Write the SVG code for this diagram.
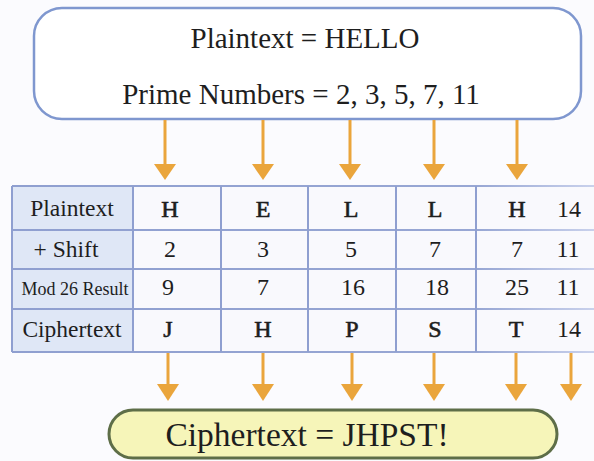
<svg xmlns="http://www.w3.org/2000/svg" width="594" height="461" viewBox="0 0 594 461">
  <defs>
    <style>
      text { font-family: 'Liberation Serif', 'Times New Roman', 'DejaVu Serif', serif; fill: #1e1e1e; text-anchor: middle; }
      .big { font-size: 29px; }
      .cell { font-size: 24px; }
      .letter { font-size: 24px; stroke: #1e1e1e; stroke-width: 0.6; }
      .lbl { font-size: 23.5px; }
      .small { font-size: 18px; }
      .grid { stroke: #8f9fd0; stroke-width: 2; fill: none; }
      .arrow { stroke: #eaa53c; stroke-width: 3; fill: none; }
      .head { fill: #eaa53c; }
    </style>
    <linearGradient id="fade" gradientUnits="userSpaceOnUse" x1="12" y1="0" x2="594" y2="0">
      <stop offset="0" stop-color="#8f9fd0"/>
      <stop offset="0.8" stop-color="#98a7d4"/>
      <stop offset="1" stop-color="#c9d1ec"/>
    </linearGradient>
  </defs>

  <rect width="594" height="461" fill="#fbfbfe"/>

  <!-- input box -->
  <g id="input">
    <rect x="34" y="8" width="547" height="111" rx="28" fill="#ffffff" stroke="#7f97cf" stroke-width="2.5"/>
    <text class="big" x="305" y="48">Plaintext = HELLO</text>
    <text class="big" x="301" y="104">Prime Numbers = 2, 3, 5, 7, 11</text>
  </g>

  <!-- connectors -->
  <g id="connectors">
    <g class="arrow">
      <line x1="165" y1="120" x2="165" y2="166"/>
      <line x1="263" y1="120" x2="263" y2="166"/>
      <line x1="350" y1="120" x2="350" y2="166"/>
      <line x1="434" y1="120" x2="434" y2="166"/>
      <line x1="517" y1="120" x2="517" y2="166"/>
      <line x1="168" y1="353" x2="168" y2="386"/>
      <line x1="263" y1="353" x2="263" y2="386"/>
      <line x1="352" y1="353" x2="352" y2="386"/>
      <line x1="434" y1="353" x2="434" y2="386"/>
      <line x1="516" y1="353" x2="516" y2="386"/>
      <line x1="571" y1="353" x2="571" y2="386"/>
    </g>
    <g class="head">
      <polygon points="154,164 176,164 165,180"/>
      <polygon points="252,164 274,164 263,180"/>
      <polygon points="339,164 361,164 350,180"/>
      <polygon points="423,164 445,164 434,180"/>
      <polygon points="506,164 528,164 517,180"/>
      <polygon points="157,384 179,384 168,401"/>
      <polygon points="252,384 274,384 263,401"/>
      <polygon points="341,384 363,384 352,401"/>
      <polygon points="423,384 445,384 434,401"/>
      <polygon points="505,384 527,384 516,401"/>
      <polygon points="560,384 582,384 571,401"/>
    </g>
  </g>

  <!-- table -->
  <g id="table">
    <rect x="12" y="186" width="121" height="166" fill="#dfe7f6"/>
    <rect x="133" y="186" width="461" height="166" fill="#f9f9fd"/>
    <g class="grid">
      <line x1="12" y1="186" x2="594" y2="186" stroke="url(#fade)"/>
      <line x1="12" y1="230" x2="594" y2="230" stroke="url(#fade)"/>
      <line x1="12" y1="269" x2="594" y2="269" stroke="url(#fade)"/>
      <line x1="12" y1="309" x2="594" y2="309" stroke="url(#fade)"/>
      <line x1="12" y1="352" x2="594" y2="352" stroke="url(#fade)"/>
      <line x1="12" y1="186" x2="12" y2="352"/>
      <line x1="133" y1="186" x2="133" y2="352"/>
      <line x1="221" y1="186" x2="221" y2="352"/>
      <line x1="308" y1="186" x2="308" y2="352"/>
      <line x1="396" y1="186" x2="396" y2="352"/>
      <line x1="476" y1="186" x2="476" y2="352"/>
    </g>

    <g id="row-plaintext">
      <text class="lbl" x="72" y="216">Plaintext</text>
      <text class="letter" x="170" y="217">H</text>
      <text class="letter" x="263" y="217">E</text>
      <text class="letter" x="351" y="217">L</text>
      <text class="letter" x="435" y="217">L</text>
      <text class="letter" x="517" y="217">H</text>
      <text class="cell" x="569" y="217">14</text>
    </g>
    <g id="row-shift">
      <text class="lbl" x="66" y="257">+ Shift</text>
      <text class="cell" x="170" y="257">2</text>
      <text class="cell" x="263" y="257">3</text>
      <text class="cell" x="351" y="257">5</text>
      <text class="cell" x="435" y="257">7</text>
      <text class="cell" x="517" y="257">7</text>
      <text class="cell" x="568" y="257">11</text>
    </g>
    <g id="row-mod">
      <text class="small" x="75" y="295">Mod 26 Result</text>
      <text class="cell" x="168" y="295">9</text>
      <text class="cell" x="263" y="295">7</text>
      <text class="cell" x="353" y="295">16</text>
      <text class="cell" x="437" y="295">18</text>
      <text class="cell" x="517" y="295">25</text>
      <text class="cell" x="568" y="295">11</text>
    </g>
    <g id="row-ciphertext">
      <text class="lbl" x="72" y="337">Ciphertext</text>
      <text class="letter" x="168" y="337">J</text>
      <text class="letter" x="263" y="337">H</text>
      <text class="letter" x="352" y="337">P</text>
      <text class="letter" x="435" y="337">S</text>
      <text class="letter" x="516" y="337">T</text>
      <text class="cell" x="569" y="337">14</text>
    </g>
  </g>

  <!-- output box -->
  <g id="output">
    <rect x="109" y="410" width="448" height="48" rx="24" fill="#f6f5b9" stroke="#5e6e48" stroke-width="3"/>
    <text x="307" y="446" font-size="33.5">Ciphertext = JHPST!</text>
  </g>
</svg>
